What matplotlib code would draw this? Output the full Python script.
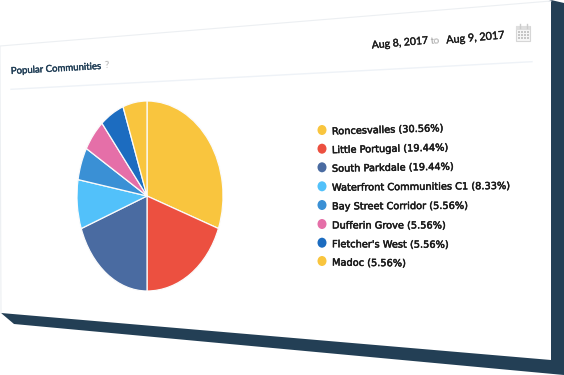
import matplotlib
matplotlib.use('Agg')
import matplotlib.pyplot as plt
import matplotlib.patheffects as pe
import numpy as np
from matplotlib.patches import Polygon, Ellipse, Rectangle, PathPatch
from matplotlib.path import Path

names = ['Roncesvalles', 'Little Portugal', 'South Parkdale', 'Waterfront Communities C1',
         'Bay Street Corridor', 'Dufferin Grove', "Fletcher's West", 'Madoc']
shares = [30.56, 19.44, 19.44, 8.33, 5.56, 5.56, 5.56, 5.56]
colors = ['#F9C53E', '#EC5040', '#4A6BA1', '#52C1FA', '#3A90D5', '#E56FA8', '#1C6CC0', '#F9C53E']

legend_y = [130, 148.7, 167.3, 186.3, 205, 224, 242.7, 261]
legend_rot = [1.7, 1.3, 1.0, 0.6, 0.3, 0, -0.3, -0.7]

dark = '#233F55'

fig = plt.figure(figsize=(5.64, 3.75), dpi=100)
ax = fig.add_axes([0, 0, 1, 1])
ax.set_xlim(0, 564)
ax.set_ylim(375, 0)
ax.axis('off')

# dark slab behind the panel
ax.add_patch(Polygon([(551, 0), (564, 3), (564, 375), (14, 324), (1, 313)], fc=dark, ec='none'))
# tilted white panel
ax.add_patch(Polygon([(0, 46), (551, 1), (551, 360), (1, 313)], fc='white', ec='none'))
ax.plot([551, 0, 1], [1, 46, 313], color='#eceff2', lw=0.8)

# separator under the header
ax.plot([11, 532], [89.3, 61.7], color='#eef2f7', lw=1)

t = ax.text(11, 74, 'Popular Communities', family='Lato', fontsize=6.9,
            color='#1f3d55', rotation=3.2, rotation_mode='anchor')
t.set_path_effects([pe.withStroke(linewidth=0.25, foreground='#1f3d55')])
ax.text(105, 67.5, '?', family='Lato', fontsize=7.5, color='#b5b5b5',
        rotation=3.2, rotation_mode='anchor')

for x, y, s, c, fs in [(372, 48.5, 'Aug 8, 2017', '#1c1c1c', 7.55),
                       (431, 44, 'to', '#a8a8a8', 7.5),
                       (446.5, 43.5, 'Aug 9, 2017', '#1c1c1c', 7.8)]:
    t = ax.text(x, y, s, family='Lato', fontsize=fs, color=c, rotation=5, rotation_mode='anchor')
    if c == '#1c1c1c':
        t.set_path_effects([pe.withStroke(linewidth=0.25, foreground=c)])

# calendar icon
ax.add_patch(Rectangle((516, 26), 14, 15, fc='#f6f6f6', ec='#d6d6d6', lw=0.8))
ax.add_patch(Rectangle((516, 26), 14, 3.5, fc='#dedede', ec='none'))
for cx in [519.5, 526.5]:
    ax.plot([cx, cx], [24, 27.5], color='#cccccc', lw=1)
for row in [32, 35, 38]:
    for col in [519, 522, 525, 528]:
        ax.add_patch(Rectangle((col - 0.7, row - 0.7), 1.4, 1.4, fc='#c6c6c6', ec='none'))

# legend
for name, share, col, y, rot in zip(names, shares, colors, legend_y, legend_rot):
    ax.add_patch(Ellipse((322, y), 9, 10, fc=col, ec='none'))
    t = ax.text(332, y + 4.5, f'{name} ({share:.2f}%)', family='DejaVu Sans', fontsize=7.05,
                color='#1a1a1a', rotation=rot, rotation_mode='anchor')
    t.set_path_effects([pe.withStroke(linewidth=0.35, foreground='#1a1a1a')])

# pie, apex sits left of the ellipse middle because of the tilt
pie_ax = fig.add_axes([77 / 564, 1 - 291 / 375, 146 / 564, 190 / 375])
wedges, _ = pie_ax.pie(shares, colors=colors, startangle=90, counterclock=False, radius=1)
pie_ax.set_aspect('auto')
pie_ax.set_xlim(77, 223)
pie_ax.set_ylim(291, 101)
pie_ax.axis('off')
for w, col in zip(wedges, colors):
    p = w.get_path()
    v = p.vertices
    px = 147 + v[:, 0] * np.where(v[:, 0] > 0, 76, 70)
    py = 196 - v[:, 1] * 95
    pie_ax.add_patch(PathPatch(Path(np.column_stack([px, py]), p.codes), fc=col, ec='#fbfbfb', lw=0.9))
    w.remove()

fig.savefig('out.png', dpi=100)
